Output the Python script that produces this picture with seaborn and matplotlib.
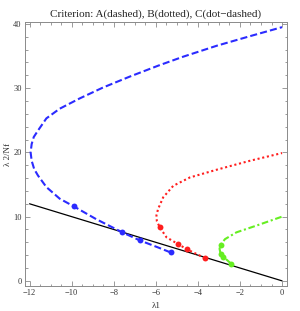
import numpy as np
import pandas as pd
import matplotlib
matplotlib.use('Agg')
import matplotlib.pyplot as plt
import matplotlib.ticker as ticker
import seaborn as sns

a_x = [-5.30, -5.89, -6.76, -7.59, -8.83, -9.90, -10.57, -11.20, -11.60, -11.78, -11.90, -11.95,
       -11.90, -11.80, -11.60, -11.20, -10.57, -9.62, -8.51, -7.24, -5.89, -4.70, -3.11, -1.52, 0.00]
a_y = [4.43, 5.20, 6.30, 7.55, 9.60, 11.60, 12.80, 14.60, 16.40, 17.40, 18.70, 20.00,
       21.30, 22.40, 23.40, 25.30, 26.80, 28.40, 30.10, 31.80, 33.50, 34.90, 36.60, 38.10, 39.50]

# curve B (red, dotted)
b_x = [-3.67, -4.54, -4.94, -5.49, -5.81, -5.95, -5.97, -5.89, -5.65, -5.17, -4.38, -3.11, -2.32, -1.52, 0.00]
b_y = [3.55, 4.95, 5.73, 6.77, 8.33, 9.30, 10.20, 11.20, 13.00, 14.80, 16.10, 17.30, 18.00, 18.70, 19.90]

# curve C (green, dot-dashed)
c_x = [-2.43, -2.79, -2.92, -2.97, -2.92, -2.71, -2.17, -1.22, 0.00]
c_y = [2.70, 3.75, 4.17, 5.00, 5.63, 6.50, 7.55, 8.60, 10.00]

# marked points on each curve
a_pts_x = [-9.90, -7.59, -6.76, -5.30]
a_pts_y = [11.60, 7.55, 6.30, 4.43]
b_pts_x = [-5.81, -4.94, -4.54, -3.67]
b_pts_y = [8.33, 5.73, 4.95, 3.55]
c_pts_x = [-2.92, -2.92, -2.79, -2.43]
c_pts_y = [5.63, 4.17, 3.75, 2.70]

# black reference line
line_x = [-12.0, 0.0]
line_y = [12.0, 0.0]

sns.set_style("ticks")
plt.rcParams['font.family'] = ['Liberation Serif', 'DejaVu Serif']

fig = plt.figure(figsize=(3.0, 3.11), dpi=100)
ax = fig.add_axes([0.0817, 0.0804, 0.8753, 0.8488])

curves = [
    (a_x, a_y, a_pts_x, a_pts_y, '#2b2bff', (0, (3.4, 1.5))),
    (b_x, b_y, b_pts_x, b_pts_y, '#ff1e1e', (0, (1.0, 1.3))),
    (c_x, c_y, c_pts_x, c_pts_y, '#66ee22', (0, (3.2, 1.3, 1.0, 1.3))),
]

sns.lineplot(x=line_x, y=line_y, ax=ax, color='black', linewidth=0.9)

for cx, cy, px, py, col, ls in curves:
    df = pd.DataFrame({'x': cx, 'y': cy})
    sns.lineplot(data=df, x='x', y='y', sort=False, estimator=None, ax=ax,
                 color=col, linewidth=1.5, linestyle=ls)
    sns.scatterplot(x=px, y=py, ax=ax, color=col, s=18, linewidth=0, zorder=5)

ax.set_xlim(-12.24, 0.24)
ax.set_ylim(-0.8, 40.3)

ax.xaxis.set_major_locator(ticker.MultipleLocator(2))
ax.xaxis.set_minor_locator(ticker.MultipleLocator(0.5))
ax.yaxis.set_major_locator(ticker.MultipleLocator(10))
ax.yaxis.set_minor_locator(ticker.MultipleLocator(2))

ax.tick_params(which='both', direction='in', top=True, right=True, color='#8a8a8a',
               width=0.6, labelsize=6, labelcolor='#333333', pad=2)
ax.tick_params(which='major', length=3.5)
ax.tick_params(which='minor', length=1.8)
ax.tick_params(axis='x', which='both', labeltop=False)
ax.tick_params(axis='y', which='both', labelright=False)
for sp in ax.spines.values():
    sp.set_color('#8a8a8a')
    sp.set_linewidth(0.7)

ax.set_title('Criterion: A(dashed), B(dotted), C(dot\u2212dashed)', fontsize=8, pad=4)
ax.set_xlabel('λ1', fontsize=6.5, labelpad=4, color='#333333')
ax.set_ylabel('λ 2/Nf', fontsize=6.5, labelpad=1, color='#333333')

fig.savefig('out.png', dpi=100)
